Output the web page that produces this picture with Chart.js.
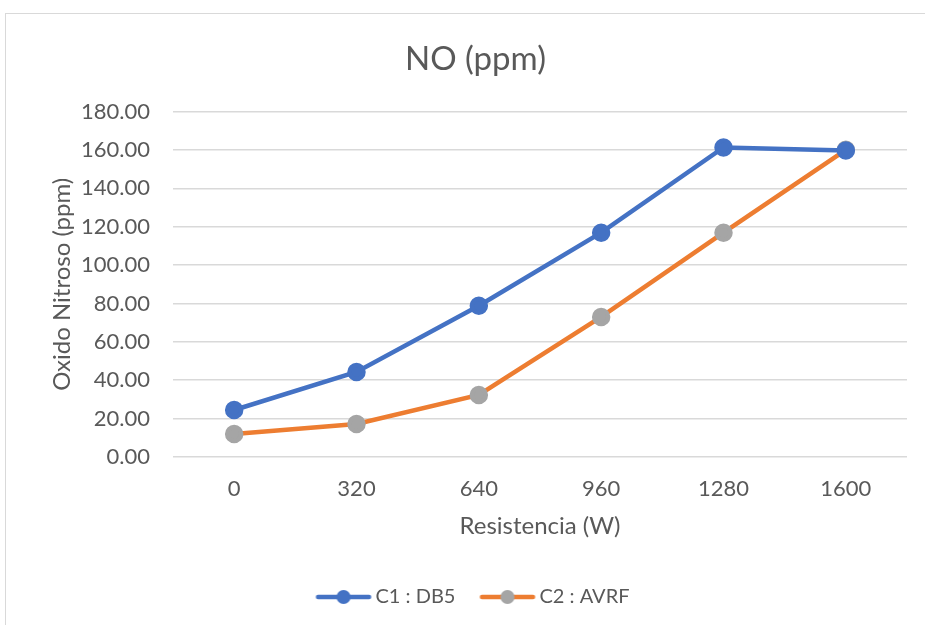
<!DOCTYPE html>
<html>
<head>
<meta charset="utf-8">
<script src="https://cdn.jsdelivr.net/npm/chart.js@4.4.1/dist/chart.umd.min.js"></script>
<style>
  html, body { margin: 0; padding: 0; background: #ffffff; }
  #marco {
    position: absolute; left: 5px; top: 13px;
    width: 960px; height: 660px;
    border: 1px solid #d9d9d9;
  }
  #lienzo { position: absolute; left: 0; top: 0; width: 925px; height: 625px; }
</style>
</head>
<body>
<div id="marco"></div>
<div id="lienzo"><canvas id="graficaNO"></canvas></div>
<script>
// datos
const potencias = ['0', '320', '640', '960', '1280', '1600'];
const valoresC1 = [24.5, 44.3, 78.8, 116.9, 161.3, 159.7];
const valoresC2 = [12.0, 17.2, 32.3, 73.0, 116.9, 160.1];
const nombreC1 = 'C1 : DB5';
const nombreC2 = 'C2 : AVRF';

const azul = '#4472C4';
const naranja = '#ED7D31';
const gris = '#A5A5A5';
const texto = '#595959';
const fuente = 'Lato, "Open Sans", sans-serif';

// icono de leyenda: linea con el punto en medio
function iconoLeyenda(colorLinea, colorPunto) {
  let c = document.createElement('canvas');
  c.width = 60;
  c.height = 16;
  let g = c.getContext('2d');
  g.strokeStyle = colorLinea;
  g.lineWidth = 4.5;
  g.lineCap = 'round';
  g.beginPath();
  g.moveTo(4.5, 8);
  g.lineTo(55.5, 8);
  g.stroke();
  g.fillStyle = colorPunto;
  g.beginPath();
  g.arc(30, 8, 7, 0, Math.PI * 2);
  g.fill();
  return c;
}

const iconos = [iconoLeyenda(azul, azul), iconoLeyenda(naranja, gris)];

new Chart(document.getElementById('graficaNO'), {
  type: 'line',
  data: {
    labels: potencias,
    datasets: [{
      label: nombreC1,
      data: valoresC1,
      borderColor: azul,
      backgroundColor: azul,
      pointBackgroundColor: azul,
      pointBorderColor: azul,
      borderWidth: 4.5,
      pointRadius: 7,
      pointHoverRadius: 7,
      tension: 0
    }, {
      label: nombreC2,
      data: valoresC2,
      borderColor: naranja,
      backgroundColor: gris,
      pointBackgroundColor: gris,
      pointBorderColor: gris,
      borderWidth: 4.5,
      pointRadius: 7,
      pointHoverRadius: 7,
      tension: 0
    }]
  },
  options: {
    responsive: true,
    maintainAspectRatio: false,
    animation: false,
    layout: { padding: { left: 44, right: 18, top: 0, bottom: 8 } },
    plugins: {
      title: {
        display: true,
        text: 'NO (ppm)',
        color: texto,
        font: { size: 33, family: fuente, weight: '400' },
        padding: { top: 40, bottom: 32 }
      },
      legend: {
        position: 'bottom',
        labels: {
          color: texto,
          font: { size: 20, family: fuente },
          usePointStyle: true,
          pointStyleWidth: 44,
          padding: 30,
          generateLabels: (chart) => chart.data.datasets.map((ds, i) => ({
            text: ds.label,
            pointStyle: iconos[i],
            fontColor: texto,
            datasetIndex: i,
            hidden: false,
            lineWidth: 0
          }))
        }
      },
      tooltip: { enabled: false }
    },
    scales: {
      x: {
        offset: true,
        grid: { display: false, drawTicks: false },
        border: { display: false },
        ticks: { color: texto, padding: 19, font: { size: 22, family: fuente } },
        title: {
          display: true,
          text: 'Resistencia (W)',
          color: texto,
          font: { size: 24, family: fuente },
          padding: { top: 0, bottom: 16.5 }
        },
        afterFit: (escala) => { escala.height = 100; }
      },
      y: {
        min: 0,
        max: 180,
        grid: { color: '#d9d9d9', lineWidth: 1.5, drawTicks: false },
        border: { display: false },
        ticks: {
          stepSize: 20,
          color: texto,
          padding: 23,
          font: { size: 22, family: fuente },
          callback: (v) => v.toFixed(2)
        },
        title: {
          display: true,
          text: 'Oxido Nitroso (ppm)',
          color: texto,
          font: { size: 24, family: fuente },
          padding: { top: 3.5, bottom: 0 }
        },
        afterFit: (escala) => { escala.width = 129; }
      }
    }
  }
});
</script>
</body>
</html>
